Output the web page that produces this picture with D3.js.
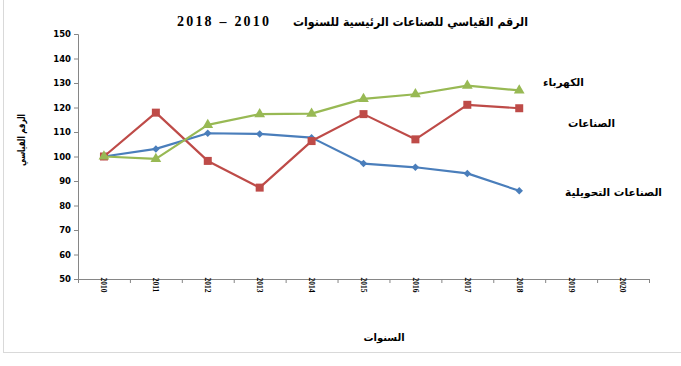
<!DOCTYPE html>
<html>
<head>
<meta charset="utf-8">
<script src="https://cdn.jsdelivr.net/npm/d3@7"></script>
<style>
  html, body { margin: 0; padding: 0; background: #fff; }
  svg { display: block; }
</style>
</head>
<body>
<svg id="chart" width="681" height="366"></svg>
<script>
const years = ["2010","2011","2012","2013","2014","2015","2016","2017","2018","2019","2020"];
const yTicks = [50,60,70,80,90,100,110,120,130,140,150];
const manufacturing = [100,103.1,109.5,109.2,107.7,97.1,95.6,93.1,86];
const industries = [100,117.9,98.2,87.3,106.3,117.3,107,121.1,119.7];
const electricity = [100,99,112.9,117.3,117.5,123.5,125.4,128.9,127];
const seriesNames = ["الصناعات التحويلية","الصناعات","الكهرباء"];
const titleArabic = "الرقم القياسي للصناعات الرئيسية للسنوات";
const titleYears = "2018  –  2010";
const yAxisTitle = "الرقم القياسي";
const xAxisTitle = "السنوات";

(function(){
const svg = d3.select("#chart");
const mLeft = 78, mRight = 649, mTop = 34, mBottom = 279;

// outer frame
svg.append("rect").attr("x",3.5).attr("y",-5).attr("width",700).attr("height",357.5)
  .attr("fill","none").attr("stroke","#d9d9d9").attr("stroke-width",1);

const x = d3.scaleBand().domain(years).range([mLeft,mRight]);
const y = d3.scaleLinear().domain([50,150]).range([mBottom,mTop]);
const axisColor = "#868686";

// Y axis
const yAxis = svg.append("g").attr("transform",`translate(${mLeft},0)`)
  .call(d3.axisLeft(y).tickValues(yTicks).tickSize(4).tickPadding(3));
yAxis.select(".domain").attr("stroke",axisColor);
yAxis.selectAll(".tick line").attr("stroke",axisColor);
yAxis.selectAll(".tick text").attr("font-family","DejaVu Sans").attr("font-weight","bold")
  .attr("font-size","8.5px").attr("fill","#000");

// X axis
const xAxis = svg.append("g").attr("transform",`translate(0,${mBottom})`)
  .call(d3.axisBottom(x).tickSize(0).tickPadding(0));
xAxis.select(".domain").attr("stroke",axisColor);
xAxis.selectAll(".tick text").remove();
const bounds = years.map(d => x(d)).concat([mRight]);
xAxis.selectAll("line.sep").data(bounds).enter().append("line").attr("class","sep")
  .attr("x1",d=>d+0.5).attr("x2",d=>d+0.5).attr("y1",0).attr("y2",4).attr("stroke",axisColor);
xAxis.selectAll("text.yl").data(years).enter().append("text").attr("class","yl")
  .attr("transform",d=>`translate(${x(d)+x.bandwidth()/2},6) rotate(90)`)
  .attr("dy","0.35em")
  .attr("font-family","Liberation Serif").attr("font-weight","bold").attr("font-size","7.5px")
  .attr("fill","#000").text(d=>d);

// series
const cx = i => x(years[i]) + x.bandwidth()/2;
const line = d3.line().x((d,i)=>cx(i)).y(d=>y(d));
const seriesData = [
  {vals: manufacturing, color:"#4a7ebb", shape: d3.symbolSquare, size: 28, rot: 45},
  {vals: industries, color:"#be4b48", shape: d3.symbolSquare, size: 64, rot: 0},
  {vals: electricity, color:"#98b954", shape: d3.symbolTriangle, size: 50, rot: 0}
];
seriesData.forEach(s => {
  svg.append("path").datum(s.vals).attr("d",line).attr("fill","none")
    .attr("stroke",s.color).attr("stroke-width",2.2).attr("stroke-linejoin","round");
  svg.selectAll(null).data(s.vals).enter().append("path")
    .attr("d",d3.symbol().type(s.shape).size(s.size))
    .attr("transform",(d,i)=>`translate(${cx(i)},${y(d)}) rotate(${s.rot})`)
    .attr("fill",s.color);
});

// titles
svg.append("text").attr("x",528).attr("y",26).attr("text-anchor","end")
  .attr("font-family","DejaVu Sans").attr("font-weight","bold").attr("font-size","12px")
  .attr("textLength",235).attr("lengthAdjust","spacingAndGlyphs")
  .text(titleArabic);
svg.append("text").attr("x",177).attr("y",26)
  .attr("font-family","Liberation Serif").attr("font-weight","bold").attr("font-size","14px")
  .attr("textLength",92).attr("lengthAdjust","spacing")
  .text(titleYears);

svg.append("text").attr("transform","translate(25,140) rotate(-90)")
  .attr("text-anchor","middle")
  .attr("font-family","DejaVu Sans").attr("font-weight","bold").attr("font-size","10px")
  .attr("textLength",52).attr("lengthAdjust","spacingAndGlyphs")
  .text(yAxisTitle);

svg.append("text").attr("x",384).attr("y",341).attr("text-anchor","middle")
  .attr("font-family","DejaVu Sans").attr("font-weight","bold").attr("font-size","10px")
  .text(xAxisTitle);

// labels
const labelPos = [
  {name: seriesNames[0], x: 662, y: 196, w: 97},
  {name: seriesNames[1], x: 615, y: 127, w: 47},
  {name: seriesNames[2], x: 584, y: 86, w: 41}
];
labelPos.forEach(l => {
  svg.append("text").attr("x",l.x).attr("y",l.y).attr("text-anchor","end")
    .attr("font-family","DejaVu Sans").attr("font-weight","bold").attr("font-size","10.5px")
    .attr("textLength",l.w).attr("lengthAdjust","spacingAndGlyphs")
    .text(l.name);
});
})();
</script>
</body>
</html>
